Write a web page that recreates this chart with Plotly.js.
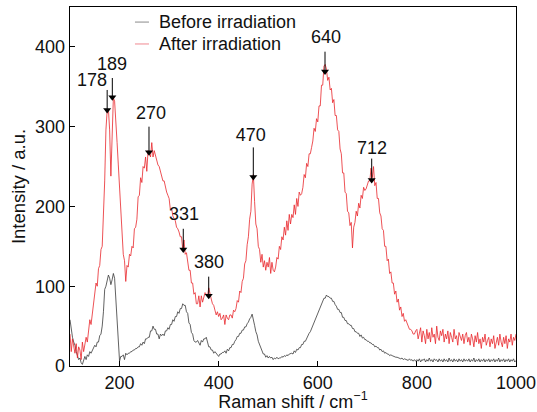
<!DOCTYPE html>
<html>
<head>
<meta charset="utf-8">
<script src="https://cdn.plot.ly/plotly-3.0.1.min.js"></script>
<style>html,body{margin:0;padding:0;background:#fff;}#chart{width:537px;height:412px;}</style>
</head>
<body>
<div id="chart"></div>
<script>
// Raman shift (cm^-1)
var ramanShift = [
100,102.5,105,107.5,110,112.5,115,117.5,120,122.5,125,127.5,130,132.5,135,137.5,140,142.5,145,147.5,
150,152.5,155,157.5,160,162.5,165,167.5,170,172.5,175,177.5,180,182.5,185,187.5,190,192.5,195,197.5,
200,202.5,205,207.5,210,212.5,215,217.5,220,222.5,225,227.5,230,232.5,235,237.5,240,242.5,245,247.5,
250,252.5,255,257.5,260,262.5,265,267.5,270,272.5,275,277.5,280,282.5,285,287.5,290,292.5,295,297.5,
300,302.5,305,307.5,310,312.5,315,317.5,320,322.5,325,327.5,330,332.5,335,337.5,340,342.5,345,347.5,
350,352.5,355,357.5,360,362.5,365,367.5,370,372.5,375,377.5,380,382.5,385,387.5,390,392.5,395,397.5,
400,402.5,405,407.5,410,412.5,415,417.5,420,422.5,425,427.5,430,432.5,435,437.5,440,442.5,445,447.5,
450,452.5,455,457.5,460,462.5,465,467.5,470,472.5,475,477.5,480,482.5,485,487.5,490,492.5,495,497.5,
500,502.5,505,507.5,510,512.5,515,517.5,520,522.5,525,527.5,530,532.5,535,537.5,540,542.5,545,547.5,
550,552.5,555,557.5,560,562.5,565,567.5,570,572.5,575,577.5,580,582.5,585,587.5,590,592.5,595,597.5,
600,602.5,605,607.5,610,612.5,615,617.5,620,622.5,625,627.5,630,632.5,635,637.5,640,642.5,645,647.5,
650,652.5,655,657.5,660,662.5,665,667.5,670,672.5,675,677.5,680,682.5,685,687.5,690,692.5,695,697.5,
700,702.5,705,707.5,710,712.5,715,717.5,720,722.5,725,727.5,730,732.5,735,737.5,740,742.5,745,747.5,
750,752.5,755,757.5,760,762.5,765,767.5,770,772.5,775,777.5,780,782.5,785,787.5,790,792.5,795,797.5,
800,802.5,805,807.5,810,812.5,815,817.5,820,822.5,825,827.5,830,832.5,835,837.5,840,842.5,845,847.5,
850,852.5,855,857.5,860,862.5,865,867.5,870,872.5,875,877.5,880,882.5,885,887.5,890,892.5,895,897.5,
900,902.5,905,907.5,910,912.5,915,917.5,920,922.5,925,927.5,930,932.5,935,937.5,940,942.5,945,947.5,
950,952.5,955,957.5,960,962.5,965,967.5,970,972.5,975,977.5,980,982.5,985,987.5,990,992.5,995,997.5,
1000];

// Intensity before irradiation (a.u.)
var beforeIrr = [
58,44,36,30,26,18,14,8,10,4,2,6,12,8,14,12,18,16,20,22,
26,24,30,30,38,40,50,68,96,100,106,114,110,102,108,116,110,86,56,28,
6,12,12,14,8,16,14,16,16,18,18,20,20,22,22,24,24,28,26,30,
28,34,34,36,36,44,44,50,46,46,40,40,34,40,38,40,38,44,44,48,
46,52,52,58,56,62,62,68,66,72,72,78,76,76,68,66,54,52,42,40,
32,30,30,32,28,26,32,30,34,34,36,30,24,24,20,20,16,18,16,14,
12,15,15,17,17,19,16,21,19,23,23,27,27,31,33,37,37,41,41,45,
45,49,49,53,55,59,61,65,55,51,43,39,31,27,21,19,15,15,11,13,
10,12,10,11,8,10,9,11,9,10,10,12,11,13,12,14,13,15,16,16,
15,19,17,21,20,23,23,27,27,31,31,35,37,41,43,47,49,55,57,63,
65,71,73,79,81,85,85,89,87,87,85,85,81,81,77,75,71,71,67,67,
61,61,57,57,53,53,51,51,47,47,43,43,41,41,37,39,35,36,33,33,
31,31,29,29,27,27,24,25,23,23,20,21,18,19,16,17,15,15,13,14,
13,12,12,11,11,10,10,9,10,8,9,8,8,7,9,7,8,6,8,6,
8,6,9,5,8,7,9,5,8,6,10,6,8,5,9,7,8,5,9,6,
8,5,9,6,8,5,10,6,8,5,9,6,8,5,9,6,8,5,9,6,
8,6,9,5,8,6,10,5,8,6,9,5,8,6,9,5,8,6,9,5,
8,6,9,5,8,6,10,5,8,6,9,5,8,6,9,5,8,6,9,5,
7];

// Intensity after irradiation (a.u.)
var afterIrr = [
40,18,34,22,16,28,10,24,20,8,30,18,26,36,30,44,58,52,66,80,
92,104,100,122,126,146,150,188,232,296,320,322,296,238,302,336,332,298,280,252,
226,194,172,140,132,106,126,124,140,138,150,148,172,174,184,212,214,236,230,250,
248,262,244,270,266,262,280,262,270,264,258,252,250,244,240,232,232,222,218,214,
210,196,198,188,184,182,174,172,168,162,162,146,158,140,142,130,120,120,104,104,
90,92,78,78,88,74,88,80,86,92,90,88,98,88,84,78,76,70,64,68,
62,66,58,60,64,52,64,60,58,64,64,60,70,68,72,82,80,94,92,106,
110,128,132,152,162,184,194,228,240,206,178,172,150,146,130,140,124,132,120,130,
124,136,116,130,120,118,124,136,134,150,146,162,158,174,164,182,170,190,178,190,
186,202,190,210,200,218,214,216,224,240,236,254,250,266,266,274,282,298,294,310,
306,326,326,352,352,376,378,372,358,362,346,348,330,334,314,314,296,294,272,266,
242,242,218,216,194,192,176,180,148,174,180,194,188,204,198,214,210,224,220,222,
228,232,232,248,236,250,226,230,210,210,192,188,172,170,150,150,132,134,116,118,
104,104,90,94,80,84,70,74,62,66,56,58,54,50,46,46,44,40,40,44,
46,34,40,48,30,44,38,28,46,34,42,30,48,36,40,28,50,36,32,44,
38,46,30,40,34,44,28,42,36,30,46,34,38,26,42,36,32,40,28,38,
42,30,36,26,40,34,24,38,30,42,28,34,22,36,30,40,26,32,36,24,
34,28,38,22,32,36,26,40,30,24,36,28,38,22,34,30,40,26,36,32,
40];

// Peak labels and arrows
var peakLabels = ['178','189','270','331','380','470','640','712'];
var arrowX     = [175,185.4,259.4,328.6,379.9,469.9,614.6,708.8];
var arrowTopY  = [346,361,300,172,112,274,394,260];
var arrowHeadY = [321,337,268,146,88,237,369,233];
var labelX     = [144.4,184.8,263.5,330,380.5,465,616.6,709.4];
var labelY     = [357,377,315,189,129,288,411,272];

var legendNames = ['Before irradiation','After irradiation'];
var lineColors = ['#3a3a3a','#e8262b'];
var legendColors = ['#8a8a8a','#f08890'];

var font = 'Liberation Sans, Arial, sans-serif';

var arrowLineX = [], arrowLineY = [];
for (var k = 0; k < arrowX.length; k++) {
  arrowLineX.push(arrowX[k], arrowX[k], null);
  arrowLineY.push(arrowTopY[k], arrowHeadY[k], null);
}

var traces = [
  {x: ramanShift, y: beforeIrr, type:'scatter', mode:'lines', name: legendNames[0],
   line:{color: lineColors[0], width:0.8}, showlegend:false},
  {x: ramanShift, y: afterIrr, type:'scatter', mode:'lines', name: legendNames[1],
   line:{color: lineColors[1], width:0.8}, showlegend:false},
  {x: arrowLineX, y: arrowLineY, type:'scatter', mode:'lines', line:{color:'#000', width:1},
   showlegend:false, hoverinfo:'skip'},
  {x: arrowX, y: arrowHeadY, type:'scatter', mode:'markers',
   marker:{symbol:'triangle-down', size:7, color:'#000'}, showlegend:false, hoverinfo:'skip'},
  {x: labelX, y: labelY, type:'scatter', mode:'text', text: peakLabels, textposition:'middle center',
   textfont:{family:font, size:18, color:'#111'}, showlegend:false, hoverinfo:'skip'}
];

var annotations = [];
var legY = [0.958, 0.897];
var shapes = [];
for (var j = 0; j < 2; j++) {
  shapes.push({type:'line', xref:'paper', yref:'paper', x0:0.1457, x1:0.1771, y0:legY[j], y1:legY[j],
    line:{color: legendColors[j], width:1}});
  annotations.push({xref:'paper', yref:'paper', x:0.195, y:legY[j], text: legendNames[j],
    showarrow:false, xanchor:'left', yanchor:'middle', font:{family:font, size:18, color:'#111'}});
}

var layout = {
  width:537, height:412,
  margin:{l:70, r:21, t:7, b:46},
  paper_bgcolor:'#fff', plot_bgcolor:'#fff',
  font:{family:font, size:18, color:'#111'},
  xaxis:{range:[100,1000], tickvals:[200,400,600,800,1000], ticks:'inside', ticklen:5, tickcolor:'#000',
    showline:true, linecolor:'#000', linewidth:1.3, mirror:true, showgrid:false, zeroline:false,
    tickfont:{family:font, size:18, color:'#111'},
    title:{text:'Raman shift / cm<sup>−1</sup>', font:{family:font, size:18, color:'#111'}, standoff:2}},
  yaxis:{range:[0,450], tickvals:[0,100,200,300,400], ticks:'inside', ticklen:5, tickcolor:'#000',
    showline:true, linecolor:'#000', linewidth:1.3, mirror:true, showgrid:false, zeroline:false,
    tickfont:{family:font, size:18, color:'#111'},
    title:{text:'Intensity / a.u.', font:{family:font, size:18.5, color:'#111'}, standoff:4}},
  annotations: annotations,
  shapes: shapes
};
Plotly.newPlot('chart', traces, layout, {displayModeBar:false, staticPlot:true});
</script>
</body>
</html>
